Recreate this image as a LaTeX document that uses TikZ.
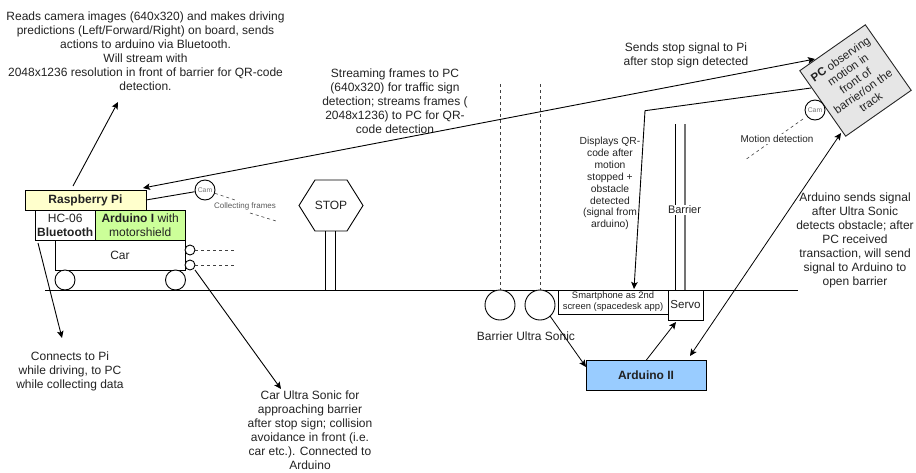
\documentclass[tikz,border=0pt]{standalone}
\usepackage{fontspec}
\setmainfont{Liberation Sans}
\usetikzlibrary{arrows.meta}
\definecolor{txt}{HTML}{222222}
\definecolor{piY}{HTML}{FFFFCC}
\definecolor{ardG}{HTML}{CCFF99}
\definecolor{ardB}{HTML}{99CCFF}
\definecolor{pcG}{HTML}{E6E6E6}
\tikzset{
  line/.style={draw=black,line width=0.9pt},
  arr/.style={line,-{Stealth[length=7pt,width=6.5pt,inset=1.5pt]}},
  barr/.style={line,{Stealth[length=7pt,width=6.5pt,inset=1.5pt]}-{Stealth[length=7pt,width=6.5pt,inset=1.5pt]}},
  label12/.style={inner sep=0pt,align=center,text=txt,font=\fontsize{12}{14}\selectfont},
  label10/.style={inner sep=0pt,align=center,text=txt,font=\fontsize{10.3}{11.9}\selectfont},
  boxn/.style={line,inner sep=0pt,align=center,text=txt,font=\fontsize{12}{14}\selectfont},
  circ/.style={circle,line,inner sep=0pt,fill=white},
  thindash/.style={draw=black!75,line width=0.6pt,dash pattern=on 3pt off 3pt},
  longdash/.style={draw=black!75,line width=0.9pt,dash pattern=on 3pt off 3pt},
}
\begin{document}
\begin{tikzpicture}[x=1pt,y=-1pt]
\useasboundingbox (0,0) rectangle (916,472);
% ground
\coordinate (gl) at (45,290); \coordinate (gr) at (798,290);
\draw[line] (gl) -- (gr);
% car
\node[boxn,minimum width=121pt,minimum height=20pt,fill=piY] (pi) at (85.5,200) {\textbf{Raspberry Pi}};
\node[boxn,minimum width=60.5pt,minimum height=30pt] (hc) at (65.2,225) {HC-06\\\textbf{Bluetooth}};
\node[boxn,minimum width=89.5pt,minimum height=30pt,fill=ardG] (ard) at (140.2,225) {\textbf{Arduino I} with\\motorshield};
\node[boxn,minimum width=130pt,minimum height=30pt] (car) at (120,255) {Car};
\node[circ,minimum size=20pt] (w1) at (65,280) {};
\node[circ,minimum size=20pt] (w2) at (175.5,280) {};
\node[circ,minimum size=10pt] (us1) at (190,250) {};
\node[circ,minimum size=10pt] (us2) at (190,265) {};
\coordinate (us1e) at (235,250); \coordinate (us2e) at (235,265);
\draw[longdash] (us1) -- (us1e);
\draw[longdash] (us2) -- (us2e);
% cam on car
\node[circ,minimum size=20pt,text=black!55,font=\fontsize{6.8}{8}\selectfont] (cam1) at (205,190) {Cam};
\coordinate (piR) at (146,200);
\draw[line] (piR) -- (cam1);
\node[inner sep=0pt,text=black!65,font=\fontsize{8}{10}\selectfont] (coll) at (245,206) {Collecting frames};
\coordinate (f1) at (235,200); \coordinate (f2) at (250,213); \coordinate (f3) at (276,221);
\draw[thindash] (cam1) -- (f1);
\draw[thindash] (f2) -- (f3);
% stop sign
\node[label12] (stop) at (331,205) {STOP};
\coordinate (p1t) at (325,231); \coordinate (p1b) at (325,290);
\coordinate (p2t) at (335,231); \coordinate (p2b) at (335,290);
\draw[line] (p1t) -- (p1b) (p2t) -- (p2b);
\draw[line] (299,205.5) -- (315,180) -- (347,180) -- (363,205.5) -- (347,231) -- (315,231) -- cycle;
% barrier sensors
\node[circ,minimum size=30pt] (bs1) at (500,305) {};
\node[circ,minimum size=30pt] (bs2) at (540,305) {};
\coordinate (d1) at (500,84); \coordinate (d2) at (540,84);
\coordinate (d1b) at (500,290); \coordinate (d2b) at (540,290);
\draw[longdash] (d1) -- (d1b);
\draw[longdash] (d2) -- (d2b);
\node[label12] (bslabel) at (526,336) {Barrier Ultra Sonic};
% phone, servo, barrier
\node[boxn,minimum width=110pt,minimum height=24pt,font=\fontsize{9.4}{11}\selectfont] (phone) at (613,302) {Smartphone as 2nd\\screen (spacedesk app)};
\node[boxn,minimum width=35pt,minimum height=30pt,fill=white,font=\fontsize{11.6}{14}\selectfont] (servo) at (685.5,305) {Servo};
\coordinate (b1t) at (675.7,124); \coordinate (b1b) at (675.7,290);
\coordinate (b2t) at (685,124); \coordinate (b2b) at (685,290);
\draw[line] (b1t) -- (b1b);
\draw[draw=black!55,line width=1.1pt] (b2t) -- (b2b);
\node[fill=white,inner sep=1pt,text=txt,font=\fontsize{11}{14}\selectfont] (barrier) at (684.5,210) {Barrier};
\node[boxn,minimum width=120pt,minimum height=29.5pt,fill=ardB] (ard2) at (646,375.5) {\textbf{Arduino II}};
% PC
\node[boxn,minimum size=80pt,fill=pcG,draw=black!85,rotate=35,font=\fontsize{11.5}{13.2}\selectfont] (pc) at (855.5,80.5) {\textbf{PC} observing\\motion in\\front of\\barrier/on the\\track};
\node[circ,minimum size=20pt,text=black!55,font=\fontsize{6.8}{8}\selectfont] (cam2) at (815,110) {Cam};
\coordinate (m1) at (803,119); \coordinate (m2) at (745,160);
\draw[thindash] (m1) -- (m2);
\node[inner sep=1pt,fill=white,text=txt,font=\fontsize{9.9}{11}\selectfont] (motion) at (777,139) {Motion detection};
% labels
\node[label12] (t1) at (145.5,51) {Reads camera images (640x320) and makes driving\\predictions (Left/Forward/Right) on board, sends\\actions to arduino via Bluetooth.\\Will stream with\\2048x1236 resolution in front of barrier for QR-code\\detection.};
\node[label12] (t2) at (395,101) {Streaming frames to PC\\(640x320) for traffic sign\\detection; streams frames (\\2048x1236) to PC for QR-\\code detection};
\node[label12] (t3) at (686,55) {Sends stop signal to Pi\\after stop sign detected};
\node[label10] (t4) at (610,183.5) {Displays QR-\\code after\\motion\\stopped +\\obstacle\\detected\\(signal from\\arduino)};
\node[label12] (t5) at (855,240) {Arduino sends signal\\after Ultra Sonic\\detects obstacle; after\\PC received\\transaction, will send\\signal to Arduino to\\open barrier};
\node[label12] (t6) at (70,371) {Connects to Pi\\while driving, to PC\\while collecting data};
\node[label12] (t7) at (310,430) {Car Ultra Sonic for\\approaching barrier\\after stop sign; collision\\avoidance in front (i.e.\\car etc.). Connected to\\Arduino};
% connectors
\coordinate (a1s) at (73,186); \coordinate (a1e) at (118,102);
\draw[arr] (a1s) -- (a1e);
\coordinate (a2s) at (38,243); \coordinate (a2e) at (62,338);
\draw[arr] (a2s) -- (a2e);
\coordinate (a3s) at (195,270); \coordinate (a3e) at (281,389);
\draw[arr] (a3s) -- (a3e);
\coordinate (piTip) at (143,188); \coordinate (pcTip) at (815,59);
\draw[barr] (piTip) -- (pcTip);
\coordinate (pcL) at (811,88); \coordinate (bend) at (645,110.7); \coordinate (phTip) at (634,289);
\draw[arr] (pcL) -- (bend) -- (phTip);
\coordinate (dn) at (690,356); \coordinate (up) at (841,133);
\draw[barr,line width=0.8pt] (dn) -- (up);
\coordinate (bs2o) at (550,316);
\coordinate (a2in) at (586,367);
\draw[arr,line width=0.8pt] (bs2o) -- (a2in);
\coordinate (a2o) at (646,360.5); \coordinate (svIn) at (676,322);
\draw[arr,line width=0.8pt] (a2o) -- (svIn);
\end{tikzpicture}
\end{document}
